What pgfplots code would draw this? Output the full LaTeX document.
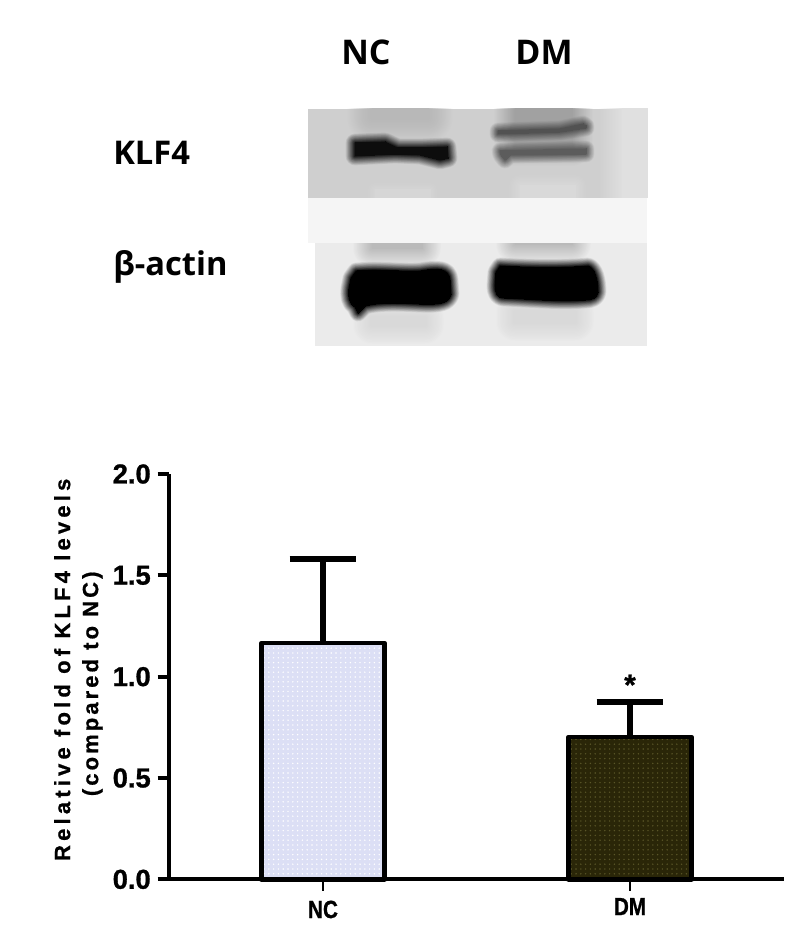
\documentclass[border=0pt]{standalone}
\usepackage{fontspec}
\setmainfont{Liberation Sans}
\newfontfamily\heavy{Liberation Sans Bold}[FakeBold=1]
\newfontfamily\spaced{Liberation Sans Bold}[LetterSpace=14,FakeBold=0.8]
\newfontfamily\spacedA{Liberation Sans Bold}[LetterSpace=19,FakeBold=0.8]
\newfontfamily\blotfont{Open Sans Bold}
\usepackage{pgfplots}
\pgfplotsset{compat=1.18}
\usetikzlibrary{patterns,patterns.meta}
\definecolor{ncfill}{HTML}{DCDFF5}
\definecolor{dmfill}{HTML}{2A2608}
\definecolor{dmdot}{HTML}{5A5628}
% soft-edged blob: colour, blur radius (px), path
\newcommand{\soft}[3]{%
  \foreach \k in {1,...,16}{%
    \pgfmathsetmacro\w{#2*(1-\k/16)*1.5}%
    \pgfmathsetmacro\a{1/(17-\k)}%
    \begin{scope}[transparency group,opacity=\a]
    \path[draw=#1,fill=#1,line width=\w pt,line join=round] #3;%
    \end{scope}
  }%
}
\begin{document}
\begin{tikzpicture}
\begin{scope}[x=.75pt,y=-.75pt]
\useasboundingbox (0,0) rectangle (800,941);
% middle strip
\fill[black!4] (308,198) rectangle (647,243);
% upper panel
\begin{scope}
\clip (308,109) rectangle (647,198);
\fill[black!19] (308,109) rectangle (647,198);
\soft{black!12}{24}{(622,85) rectangle (670,220)}
\soft{black!28}{26}{(372,85) rectangle (428,118)}
\soft{black!16}{22}{(375,190) rectangle (430,215)}
\soft{black!15}{22}{(520,186) rectangle (575,215)}
\soft{black!37}{22}{(515,85) rectangle (572,145)}
\soft{black!68}{9}{(498,131) -- (560,129) -- (583,124) -- (586,126) -- (586,128) -- (560,132) -- (498,134) -- cycle}
\soft{black!64}{9}{(500,151) -- (586,149) -- (586,154) -- (510,155) -- (505,160) -- (501,155) -- cycle}
\soft{black!95}{10}{(355,143) -- (385,142) -- (398,148) -- (420,148) -- (447,147) -- (448,158) -- (440,160) -- (420,155) -- (395,154) -- (355,156) -- cycle}
\end{scope}
% lower panel
\begin{scope}
\clip (315,243) rectangle (647,346);
\fill[black!8] (315,243) rectangle (647,346);
\soft{black!27}{20}{(372,225) rectangle (422,248)}
\soft{black!27}{20}{(515,225) rectangle (572,244)}
\soft{black!15}{20}{(372,318) rectangle (425,325)}
\soft{black!15}{20}{(515,312) rectangle (575,322)}
\soft{black}{9}{(356,271) .. controls (380,269) and (400,272) .. (420,271) .. controls (438,268) and (449,268) .. (450,280) -- (451,294) .. controls (449,303) and (440,305) .. (420,304) .. controls (400,303) and (380,302) .. (365,306) -- (358,313) -- (355,307) .. controls (349,303) and (348,296) .. (349,288) -- (351,278) -- cycle}
\soft{black}{9}{(500,266) .. controls (530,268) and (570,268) .. (588,266) .. controls (595,268) and (598,280) .. (598,292) .. controls (597,298) and (592,300) .. (585,300) .. controls (560,302) and (530,299) .. (505,298) .. controls (497,298) and (495,293) .. (495,285) -- (496,272) -- cycle}
\end{scope}
% blot labels
\node[font=\blotfont\fontsize{25.5}{28}\selectfont] at (366,52) {NC};
\node[font=\blotfont\fontsize{25.5}{28}\selectfont] at (544,52) {DM};
\node[anchor=west,inner sep=0pt,font=\blotfont\fontsize{24.5}{28}\selectfont] at (113,153) {KLF4};
\node[anchor=west,inner sep=0pt,font=\blotfont\fontsize{24.5}{28}\selectfont] at (113,267) {β-actin};
\end{scope}
\begin{axis}[
  at={(126.75pt,-659.5pt)},anchor=south west,
  scale only axis,width=461.25pt,height=304pt,
  xmin=-0.5016,xmax=1.5016,ymin=0,ymax=2,
  axis lines=left,
  axis line style={-,line width=3pt,black},
  xtick={0,1},xticklabels={\scalebox{1}[1.2]{NC},\raisebox{2.2pt}{\scalebox{1}[1.2]{DM}}},
  ytick={0,0.5,1,1.5,2},
  yticklabel style={/pgf/number format/fixed,/pgf/number format/fixed zerofill,/pgf/number format/precision=1,/pgf/number format/assume math mode=true,font=\heavy\fontsize{20.5}{22}\selectfont,inner sep=0pt,xshift=-5pt},
  xticklabel style={font=\heavy\fontsize{15.5}{16}\selectfont,inner sep=0pt,anchor=base,yshift=-20.5pt},
  tick align=outside,
  ytick style={line width=3pt,black},
  xtick style={line width=1.8pt,black},
  major tick length=8.5pt,
  ylabel={{\spacedA Relative fold of KLF4 levels}\\(compared to NC)\hspace*{21pt}},
  ylabel style={align=center,font=\spaced\fontsize{16.5}{21}\selectfont,at={(ticklabel cs:0.517)},anchor=south},
  ylabel shift=4pt,
  ybar,bar width=0.4,
  clip=false,
]
\addplot[bar shift=0pt,draw=none,fill=ncfill] coordinates {(0,1.166)};
\addplot[bar shift=0pt,draw=none,pattern={Dots[distance=3.6pt,radius=.6pt]},pattern color=white] coordinates {(0,1.166)};
\addplot[bar shift=0pt,draw=black,fill=none,line width=3.5pt,line join=round,
  error bars/.cd,y dir=plus,y explicit,
  error bar style={line width=4.2pt,black},
  error mark options={rotate=90,mark size=25pt,line width=4.2pt,black}]
  coordinates {(0,1.166) +- (0,0.416)};
\addplot[bar shift=0pt,draw=none,fill=dmfill] coordinates {(1,0.702)};
\addplot[bar shift=0pt,draw=none,pattern={Dots[distance=3.6pt,radius=.6pt]},pattern color=dmdot] coordinates {(1,0.702)};
\addplot[bar shift=0pt,draw=black,fill=none,line width=3.5pt,line join=round,
  error bars/.cd,y dir=plus,y explicit,
  error bar style={line width=4.2pt,black},
  error mark options={rotate=90,mark size=25pt,line width=4.2pt,black}]
  coordinates {(1,0.702) +- (0,0.173)};
\node[font=\heavy\fontsize{22}{22}\selectfont,inner sep=0pt] at (axis cs:1,0.96) {*};
\end{axis}
\end{tikzpicture}
\end{document}
